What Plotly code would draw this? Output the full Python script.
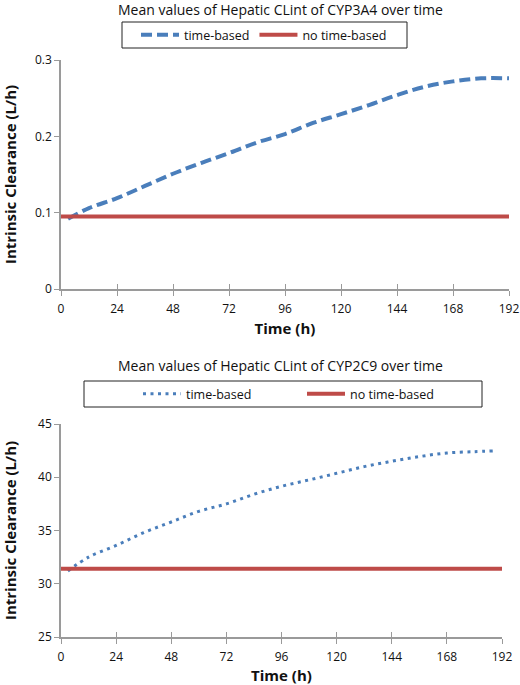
import plotly.graph_objects as go

# ---- data ----
time_cyp3a4 = [3, 12, 24, 36, 48, 60, 72, 84, 96, 108, 120, 132, 144, 156, 168, 180, 192]
clint_cyp3a4_time = [0.092, 0.106, 0.119, 0.135, 0.151, 0.165, 0.178, 0.192, 0.203, 0.2175,
                     0.229, 0.241, 0.254, 0.265, 0.272, 0.276, 0.276]
time_flat = [0, 192]
clint_cyp3a4_flat = [0.095, 0.095]

time_cyp2c9 = [3, 12, 24, 36, 48, 60, 72, 84, 96, 108, 120, 132, 144, 156, 168, 180, 188]
clint_cyp2c9_time = [31.2, 32.5, 33.6, 34.8, 35.8, 36.8, 37.5, 38.4, 39.15, 39.75,
                     40.37, 41.0, 41.5, 41.94, 42.28, 42.4, 42.47]
clint_cyp2c9_flat = [31.4, 31.4]

x_ticks = [0, 24, 48, 72, 96, 120, 144, 168, 192]
y_ticks_top = [0, 0.1, 0.2, 0.3]
y_tick_text_top = ["0", "0.1", "0.2", "0.3"]
y_ticks_bot = [25, 30, 35, 40, 45]

title_top = "Mean values of Hepatic CLint of CYP3A4 over time"
title_bot = "Mean values of Hepatic CLint of CYP2C9 over time"
series_names = ["time-based", "no time-based"]

BLUE = "#4A7EBB"
RED = "#BE4B48"
AXIS = "#9A9A9A"
FONT = "Open Sans"

W, H = 520, 685
ML = 61
MR = W - 509
PW = W - ML - MR

def py(p):  # screen pixel y -> paper fraction
    return (H - p) / H

def px(p):  # screen pixel x -> paper fraction
    return (p - ML) / PW

fig = go.Figure()
fig.add_trace(go.Scatter(x=time_cyp3a4, y=clint_cyp3a4_time, mode="lines", name=series_names[0],
                         line=dict(color=BLUE, width=4, dash="11px,5px", shape="spline"),
                         xaxis="x", yaxis="y", legend="legend"))
fig.add_trace(go.Scatter(x=time_flat, y=clint_cyp3a4_flat, mode="lines", name=series_names[1],
                         line=dict(color=RED, width=4),
                         xaxis="x", yaxis="y", legend="legend"))
fig.add_trace(go.Scatter(x=time_cyp2c9, y=clint_cyp2c9_time, mode="lines", name=series_names[0],
                         line=dict(color=BLUE, width=3, dash="3px,4.5px", shape="spline"),
                         xaxis="x2", yaxis="y2", legend="legend2"))
fig.add_trace(go.Scatter(x=time_flat, y=clint_cyp2c9_flat, mode="lines", name=series_names[1],
                         line=dict(color=RED, width=4),
                         xaxis="x2", yaxis="y2", legend="legend2"))
# invisible helper traces so the inside-tick overlay axes are drawn
fig.add_trace(go.Scatter(x=[0], y=[None], xaxis="x3", yaxis="y", showlegend=False, hoverinfo="skip"))
fig.add_trace(go.Scatter(x=[0], y=[None], xaxis="x4", yaxis="y2", showlegend=False, hoverinfo="skip"))

tickfont = dict(size=12, color="#111", family=FONT)
xcommon = dict(tickmode="array", tickvals=x_ticks, showgrid=False, zeroline=False, automargin=False,
               showline=True, linecolor=AXIS, linewidth=1.5, ticks="outside", ticklen=5,
               tickcolor=AXIS, tickwidth=1.2, tickfont=tickfont, ticklabelstandoff=3,
               title=dict(text="<b>Time (h)</b>", font=dict(size=15, color="#111"), standoff=7))
ycommon = dict(showgrid=False, zeroline=False, showline=True, linecolor=AXIS, linewidth=1.5,
               automargin=False, ticks="outside", ticklen=5, tickcolor=AXIS, tickwidth=1.2,
               tickfont=tickfont,
               title=dict(text="<b>Intrinsic Clearance (L/h)</b>", font=dict(size=15, color="#111"),
                          standoff=27))
xover = dict(tickmode="array", tickvals=x_ticks, showgrid=False, zeroline=False, automargin=False,
             showline=False, ticks="inside", ticklen=5, tickcolor=AXIS, tickwidth=1.2,
             showticklabels=False, range=[0, 192], side="bottom")

dom_bot_x = [0, px(502)]

fig.update_layout(
    template="none",
    width=W, height=H,
    margin=dict(l=ML, r=MR, t=0, b=0),
    paper_bgcolor="white", plot_bgcolor="white",
    font=dict(family=FONT, color="#111"),
    xaxis=dict(**xcommon, domain=[0, 1], range=[0, 192], anchor="y"),
    yaxis=dict(**ycommon, domain=[py(289), py(60)], range=[0, 0.3],
               tickvals=y_ticks_top, ticktext=y_tick_text_top, anchor="x"),
    xaxis2=dict(**xcommon, domain=dom_bot_x, range=[0, 192], anchor="y2"),
    yaxis2=dict(**ycommon, domain=[py(637), py(424)], range=[25, 45],
                tickvals=y_ticks_bot, anchor="x2"),
    xaxis3=dict(**xover, overlaying="x", anchor="y", domain=[0, 1]),
    xaxis4=dict(**xover, overlaying="x2", anchor="y2", domain=dom_bot_x),
    legend=dict(orientation="h", x=px(136), xanchor="left", y=py(35), yanchor="middle",
                borderwidth=0, bgcolor="rgba(0,0,0,0)", font=dict(size=12.5),
                itemwidth=38, traceorder="normal"),
    legend2=dict(orientation="h", x=px(138), xanchor="left", y=py(394), yanchor="middle",
                 borderwidth=0, bgcolor="rgba(0,0,0,0)", font=dict(size=12.5), entrywidth=111,
                 itemwidth=38, traceorder="normal"),
    shapes=[
        dict(type="rect", xref="paper", yref="paper", x0=px(122), x1=px(407), y0=py(48), y1=py(22),
             line=dict(color="#222", width=1), fillcolor="rgba(0,0,0,0)", layer="below"),
        dict(type="rect", xref="paper", yref="paper", x0=px(84), x1=px(482), y0=py(407), y1=py(381),
             line=dict(color="#222", width=1), fillcolor="rgba(0,0,0,0)", layer="below"),
    ],
    annotations=[
        dict(text=title_top, x=px(280), y=py(10), xref="paper", yref="paper",
             showarrow=False, font=dict(size=14, color="#111"), xanchor="center", yanchor="middle"),
        dict(text=title_bot, x=px(280), y=py(365), xref="paper", yref="paper",
             showarrow=False, font=dict(size=14, color="#111"), xanchor="center", yanchor="middle"),
    ],
    showlegend=True,
)

fig.write_html(
    "out.html",
    config={"displayModeBar": False},
    post_script="document.body.style.margin='0';document.body.style.overflow='hidden';",
)
